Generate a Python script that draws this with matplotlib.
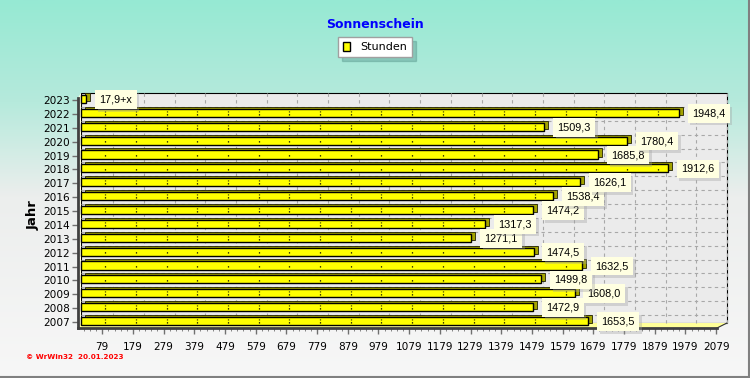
import matplotlib
matplotlib.use("Agg")
import matplotlib.pyplot as plt
import matplotlib.patheffects as pe
from matplotlib.patches import Polygon, Rectangle, Patch
from matplotlib.lines import Line2D
from matplotlib.colors import LinearSegmentedColormap
from matplotlib.ticker import FixedLocator
from matplotlib.transforms import ScaledTranslation
import numpy as np

# sunshine hours per year (2023 only partial: "+x")
years = [2007, 2008, 2009, 2010, 2011, 2012, 2013, 2014, 2015,
         2016, 2017, 2018, 2019, 2020, 2021, 2022, 2023]
hours = [1653.5, 1472.9, 1608.0, 1499.8, 1632.5, 1474.5, 1271.1, 1317.3, 1474.2,
         1538.4, 1626.1, 1912.6, 1685.8, 1780.4, 1509.3, 1948.4, 17.9]
partial_year = 2023
x_ticks = [79, 179, 279, 379, 479, 579, 679, 779, 879, 979, 1079,
           1179, 1279, 1379, 1479, 1579, 1679, 1779, 1879, 1979, 2079]

W, H = 750, 378
fig = plt.figure(figsize=(W / 100, H / 100), dpi=100)

# background gradient
bg = fig.add_axes([0, 0, 1, 1], zorder=-10)
bg.axis("off")
cmap = LinearSegmentedColormap.from_list(
    "bg", [(0, "#96E9D3"), (0.27, "#B6EADC"), (0.52, "#ECEEED"), (1, "#F7F7F7")])
bg.imshow(np.linspace(0, 1, 256).reshape(-1, 1), cmap=cmap, aspect="auto",
          extent=[0, 1, 0, 1])

# front plane of the pseudo-3D chart
L, R, B, T = 78, 717, 328, 98
ax = fig.add_axes([L / W, 1 - B / H, (R - L) / W, (B - T) / H])
ax.set_xlim(0, 2082)
ax.set_ylim(2006.568, 2023.144)
ax.patch.set_visible(False)

def fx(px):
    return (px - L) / (R - L)

def fy(py):
    return (B - py) / (B - T)

# walls and floor
ax.add_patch(Rectangle((fx(81), fy(323)), fx(727) - fx(81), fy(93) - fy(323),
                       transform=ax.transAxes, facecolor="#EBEBEB",
                       edgecolor="black", linewidth=0.8, zorder=0, clip_on=False))
ax.add_patch(Polygon([(fx(78), fy(328)), (fx(81), fy(323)), (fx(81), fy(93)), (fx(78), fy(98))],
                     transform=ax.transAxes, facecolor="#FFFFE0", edgecolor="none",
                     zorder=0.5, clip_on=False))
ax.add_patch(Polygon([(fx(78), fy(328)), (fx(717), fy(328)), (fx(727), fy(323)), (fx(81), fy(323))],
                     transform=ax.transAxes, facecolor="#FFFF99", edgecolor="none",
                     zorder=0.5, clip_on=False))
ax.plot([fx(717), fx(727)], [fy(328), fy(323)], color="#303030", linewidth=0.8,
        transform=ax.transAxes, zorder=0.6, clip_on=False)

# back-wall grid
grid_off = ScaledTranslation(11 / 100, 0, fig.dpi_scale_trans)
for xt in x_ticks:
    ax.plot([xt, xt], [2006.568 + 5 / 13.875, 2023.144 + 5 / 13.875], color="#A8A8A8",
            linestyle=(0, (3, 3)), linewidth=0.8, transform=ax.transData + grid_off,
            zorder=1, clip_on=False)
for yv in years[:-1]:
    ax.axhline(yv + 0.5, xmin=fx(81), xmax=fx(727), color="#A8A8A8",
               linestyle=(0, (3, 3)), linewidth=0.8, zorder=1, clip_on=False)

# bars: olive depth copy behind, yellow front
front = ScaledTranslation(3 / 100, 1 / 100, fig.dpi_scale_trans)
depth = ScaledTranslation(7 / 100, 3 / 100, fig.dpi_scale_trans)
ax.barh(years, hours, height=0.58, color="#A3A300", edgecolor="#202000", linewidth=0.6,
        transform=ax.transData + depth, zorder=2, clip_on=False)
ax.barh(years, hours, height=0.58, color="#FFFF00", edgecolor="black", linewidth=1.0,
        transform=ax.transData + front, zorder=3, clip_on=False)

# dotted grid seen through the bars
for yv, hv in zip(years, hours):
    xs = [xt for xt in x_ticks if xt < hv - 10]
    if xs:
        ax.vlines(xs, yv - 0.13, yv + 0.13, colors="black", linewidth=0.9,
                  linestyles=(0, (1, 1.5)), transform=ax.transData + front, zorder=4)

# value labels
for yv, hv in zip(years, hours):
    txt = f"{hv:.1f}".replace(".", ",")
    if yv == partial_year:
        txt += "+x"
    t = ax.annotate(txt, (hv, yv), xytext=(16, 0.5), textcoords="offset pixels",
                    ha="left", va="center", fontsize=7.8, family="Liberation Sans",
                    zorder=6, annotation_clip=False,
                    bbox=dict(boxstyle="square,pad=0.4", facecolor="#FFFFE1",
                              edgecolor="none"))
    t.get_bbox_patch().set_path_effects([
        pe.SimplePatchShadow(offset=(2, -2), shadow_rgbFace="#A0A0A0", alpha=0.35),
        pe.Normal()])

# axes
for s in ["top", "right"]:
    ax.spines[s].set_visible(False)
for s in ["left", "bottom"]:
    ax.spines[s].set_color("#404040")
    ax.spines[s].set_linewidth(2)
    ax.spines[s].set_zorder(5)
ax.set_xticks(x_ticks)
ax.set_xticklabels([str(v) for v in x_ticks])
ax.xaxis.set_minor_locator(FixedLocator(np.arange(19, 2082, 20)))
ax.set_yticks(years)
ax.set_yticklabels([str(y) for y in years])
ax.tick_params(axis="both", which="major", labelsize=7.6, colors="#707070",
               labelcolor="black", length=4, width=1)
ax.tick_params(axis="x", which="major", pad=6)
ax.tick_params(axis="y", which="major", pad=2)
ax.tick_params(axis="x", which="minor", length=2, color="#707070")

# texts
fig.text(0.5, 1 - 25 / H, "Sonnenschein", color="#0000FF", fontsize=9,
         weight="bold", ha="center", va="center")
fig.text(33 / W, 1 - 215 / H, "Jahr", rotation=90, fontsize=9.5, weight="bold",
         ha="center", va="center")
fig.text(26 / W, 1 - 357 / H, "\u00a9 WrWin32  20.01.2023", color="red",
         fontsize=5.2, weight="bold", ha="left", va="center")

leg = fig.legend(handles=[Patch(facecolor="#FFFF00", edgecolor="black", label="Stunden")],
                 loc="center", bbox_to_anchor=(375 / W, 1 - 47 / H), fontsize=8,
                 frameon=True, fancybox=False,
                 shadow={"color": "#4A8A80", "alpha": 0.35, "ox": 3, "oy": -3},
                 handlelength=0.6, handleheight=0.9, handletextpad=0.9, borderpad=0.45)
leg.get_frame().set_edgecolor("#A0A0A0")
leg.get_frame().set_facecolor("white")

# outer border
fig.add_artist(Line2D([0, 1], [1 / H, 1 / H], color="#808080", linewidth=1.5))
fig.add_artist(Line2D([1 - 1.5 / W, 1 - 1.5 / W], [0, 1], color="#808080", linewidth=1.5))

fig.savefig("out.png", dpi=100)
